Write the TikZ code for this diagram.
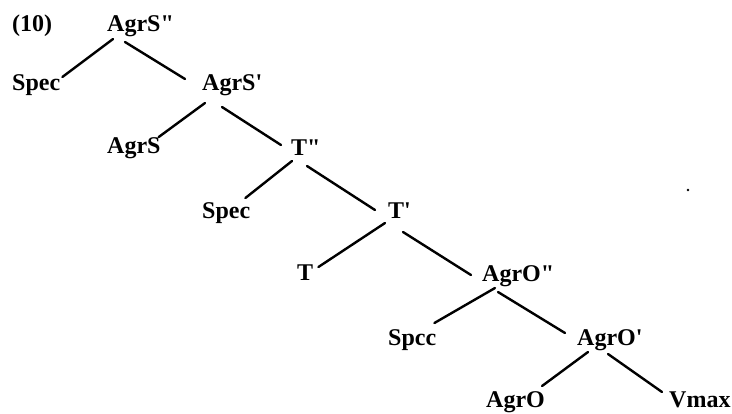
\documentclass[tikz,border=0pt]{standalone}
\usepackage{fontspec}
\setmainfont{Liberation Serif}[Ligatures=TeXOff]
\usetikzlibrary{calc}
\tikzset{
  lbl/.style={anchor=base west, inner sep=0pt, font=\fontsize{24}{28}\selectfont\bfseries},
  br/.style={line width=2.4pt, line cap=round, black}
}
\begin{document}
\begin{tikzpicture}[x=1pt,y=-1pt]
\useasboundingbox (0,0) rectangle (732,413);
\node[lbl] (ex) at (12,31) {(10)};
\node[lbl] (agrsPP) at (107,31) {AgrS"};
\node[lbl] (spec1) at (12,90) {Spec};
\node[lbl] (agrsP) at (202,90) {AgrS'};
\node[lbl] (agrs) at (107,153) {AgrS};
\node[lbl] (tPP) at (291,155) {T"};
\node[lbl] (spec2) at (202,218) {Spec};
\node[lbl] (tP) at (388,218) {T'};
\node[lbl] (t) at (297,280) {T};
\node[lbl] (agroPP) at (482,281) {AgrO"};
\node[lbl] (spcc) at (388,345) {Spcc};
\node[lbl] (agroP) at (577,345) {AgrO'};
\node[lbl] (agro) at (486,407) {AgrO};
\node[lbl] (vmax) at (669,407) {Vmax};
\fill (688,190) circle (1.3);
% edges
\draw[br] ($(agrsPP.base west)+(6,8)$) -- ($(spec1.base east)+(2,-13)$);
\draw[br] ($(agrsPP.base west)+(18,11)$) -- ($(agrsP.base west)+(-17,-11)$);
\draw[br] ($(agrsP.base west)+(3,13)$) -- ($(agrs.base east)+(-2,-16)$);
\draw[br] ($(agrsP.base west)+(20,17)$) -- ($(tPP.base west)+(-10,-10)$);
\draw[br] ($(tPP.base west)+(1,6)$) -- ($(spec2.base east)+(-5,-20)$);
\draw[br] ($(tPP.base west)+(16,11)$) -- ($(tP.base west)+(-13,-8)$);
\draw[br] ($(tP.base west)+(-3,5)$) -- ($(t.base east)+(5,-13)$);
\draw[br] ($(tP.base west)+(15,14)$) -- ($(agroPP.base west)+(-11,-6)$);
\draw[br] ($(agroPP.base west)+(13,7)$) -- ($(spcc.base east)+(-2,-22)$);
\draw[br] ($(agroPP.base west)+(16,11)$) -- ($(agroP.base west)+(-12,-12)$);
\draw[br] ($(agroP.base west)+(11,7)$) -- ($(agro.base east)+(-3,-21)$);
\draw[br] ($(agroP.base west)+(31,9)$) -- ($(vmax.base west)+(-7,-15)$);
\end{tikzpicture}
\end{document}
